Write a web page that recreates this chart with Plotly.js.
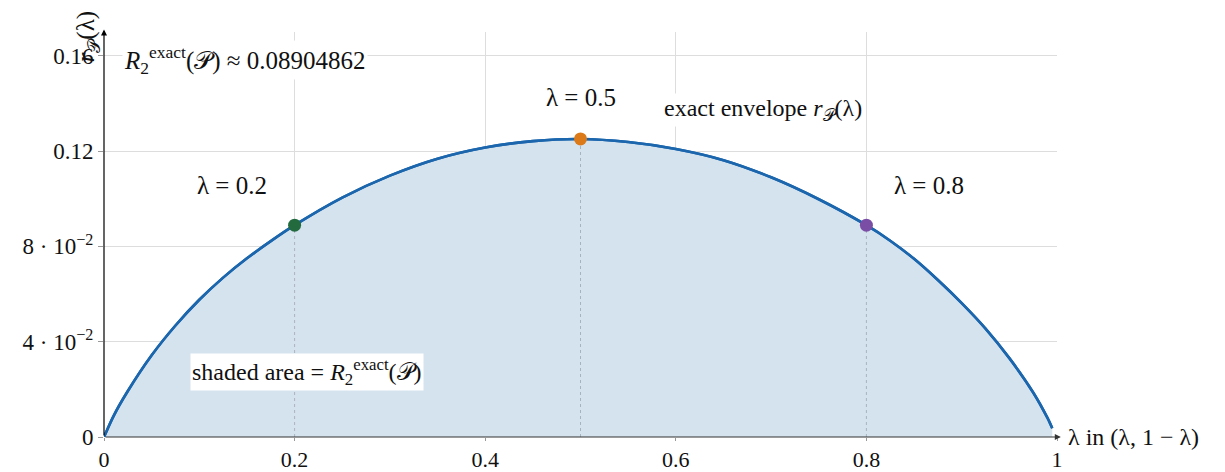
<!DOCTYPE html>
<html>
<head>
<meta charset="utf-8">
<script src="https://cdn.plot.ly/plotly-3.0.1.min.js"></script>
<style>html,body{margin:0;padding:0;background:#fff;}#chart{width:1225px;height:472px;}</style>
</head>
<body>
<div id="chart"></div>
<script>
// Envelope r_P(lambda)
const lambdaVals = [0, 0.01, 0.025, 0.05, 0.075, 0.1, 0.125, 0.15, 0.175, 0.2, 0.25, 0.3, 0.35, 0.4, 0.45, 0.5, 0.55, 0.6, 0.65, 0.7, 0.75, 0.8, 0.825, 0.85, 0.875, 0.9, 0.925, 0.95, 0.975, 0.99, 0.995];
const envelopeVals = [0, 0.0088, 0.0193, 0.0343, 0.0468, 0.0576, 0.0669, 0.0750, 0.0822, 0.0889, 0.1005, 0.1097, 0.1168, 0.1215, 0.1242, 0.1251, 0.1238, 0.1209, 0.1162, 0.1090, 0.0998, 0.0889, 0.0824, 0.0748, 0.0659, 0.0562, 0.0455, 0.0331, 0.0187, 0.0080, 0.0037];
// Highlighted points
const markLambda = [0.2, 0.5, 0.8];
const markValue = [0.0889, 0.1251, 0.0889];
const markLabels = ["λ = 0.2", "λ = 0.5", "λ = 0.8"];
const markColors = ["#236b3f", "#dc7a19", "#7b4ea6"];
// Axis ticks
const xTickVals = [0, 0.2, 0.4, 0.6, 0.8, 1];
const xTickText = ["0", "0.2", "0.4", "0.6", "0.8", "1"];
const yTickVals = [0, 0.04, 0.08, 0.12, 0.16];
const yTickText = ["0", "4 · 10<sup>−2</sup>", "8 · 10<sup>−2</sup>", "0.12", "0.16"];
const areaText = "<i>R</i><sub>2</sub><sup>exact</sup>(𝒫) ≈ 0.08904862";

const FONT = "Liberation Serif, DejaVu Serif, serif";
const traces = [];
traces.push({
  x: lambdaVals, y: envelopeVals, type: "scatter", mode: "lines",
  line: {color: "#1b66ad", width: 2.6, shape: "spline", smoothing: 0.8},
  fill: "tozeroy", fillcolor: "#d5e3ef", hoverinfo: "skip", showlegend: false
});
for (let i = 0; i < markLambda.length; i++) {
  traces.push({
    x: [markLambda[i], markLambda[i]], y: [0, markValue[i]], type: "scatter", mode: "lines",
    line: {color: "#a9b3bd", width: 1, dash: "dot"}, showlegend: false, hoverinfo: "skip"
  });
}
traces.push({
  x: lambdaVals, y: envelopeVals, type: "scatter", mode: "lines",
  line: {color: "#1b66ad", width: 2.6, shape: "spline", smoothing: 0.8},
  showlegend: false, hoverinfo: "skip"
});
for (let i = 0; i < markLambda.length; i++) {
  traces.push({
    x: [markLambda[i]], y: [markValue[i]], type: "scatter", mode: "markers",
    marker: {color: markColors[i], size: 13}, showlegend: false
  });
}

const ann = [];
const labelPos = [[0.134, 0.1055], [0.5, 0.1424], [0.866, 0.1055]];
for (let i = 0; i < markLabels.length; i++) {
  ann.push({x: labelPos[i][0], y: labelPos[i][1], xref: "x", yref: "y", text: markLabels[i],
    showarrow: false, font: {family: FONT, size: 25, color: "#111"}, bgcolor: "white"});
}
ann.push({x: 0.691, y: 0.1374, xref: "x", yref: "y", text: "exact envelope <i>r</i><sub>𝒫</sub>(λ)",
  showarrow: false, font: {family: FONT, size: 24, color: "#111"}, bgcolor: "white"});
ann.push({x: 0.0184, y: 0.1584, xref: "x", yref: "y", xanchor: "left", text: areaText,
  showarrow: false, font: {family: FONT, size: 25, color: "#111"}, bgcolor: "white"});
ann.push({x: 0.2125, y: 0.0273, xref: "x", yref: "y", text: "shaded area = <i>R</i><sub>2</sub><sup>exact</sup>(𝒫)",
  showarrow: false, font: {family: FONT, size: 24, color: "#111"}, bgcolor: "white", borderpad: 1});
ann.push({x: 1.009, y: 0, xref: "paper", yref: "y", xanchor: "left", text: "λ in (λ, 1 − λ)",
  showarrow: false, font: {family: FONT, size: 24, color: "#111"}});
ann.push({x: -0.0175, y: 0.99, xref: "paper", yref: "paper", xanchor: "center", yanchor: "middle",
  textangle: -90, text: "<i>r</i><sub>𝒫</sub>(λ)",
  showarrow: false, font: {family: FONT, size: 25, color: "#111"}});
// axis arrows
ann.push({x: 0, y: 0.171, ax: 0, ay: 0, xref: "x", yref: "y", axref: "x", ayref: "y",
  showarrow: true, arrowhead: 2, arrowsize: 1, arrowwidth: 1.2, arrowcolor: "#000", text: ""});
ann.push({x: 1.004, y: 0, ax: 0, ay: 0, xref: "x", yref: "y", axref: "x", ayref: "y",
  showarrow: true, arrowhead: 2, arrowsize: 1, arrowwidth: 1.2, arrowcolor: "#333", text: ""});

const layout = {
  width: 1225, height: 472,
  margin: {l: 104, r: 168, t: 32, b: 35, pad: 0},
  paper_bgcolor: "#fff", plot_bgcolor: "#fff",
  showlegend: false,
  xaxis: {range: [0, 1], tickvals: xTickVals, ticktext: xTickText, showgrid: true,
    gridcolor: "#dddddd", gridwidth: 1, zeroline: false, showline: false,
    ticks: "outside", ticklen: 3, tickcolor: "#999", tickfont: {family: FONT, size: 22, color: "#111"}},
  yaxis: {range: [0, 0.17], tickvals: yTickVals, ticktext: yTickText, showgrid: true,
    gridcolor: "#dddddd", gridwidth: 1, zeroline: false, showline: false,
    ticks: "outside", ticklen: 5, tickcolor: "#999", tickfont: {family: FONT, size: 23, color: "#111"}},
  annotations: ann,
  font: {family: FONT}
};
Plotly.newPlot("chart", traces, layout, {displayModeBar: false, staticPlot: true});
</script>
</body>
</html>
